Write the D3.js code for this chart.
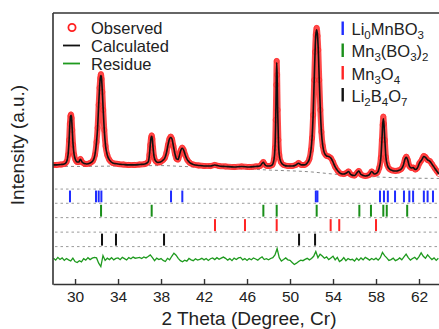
<!DOCTYPE html>
<html><head><meta charset="utf-8">
<script src="https://cdn.jsdelivr.net/npm/d3@7"></script>
<style>body{margin:0;background:#fff}svg{display:block;font-family:"Liberation Sans",Arial,Helvetica,sans-serif}</style>
</head><body><svg id="c" width="439" height="329"></svg>
<script>
// ---------- data ----------
const twoTheta = [27.95,28.3,28.7,29.0,29.2,29.35,29.45,29.52,29.58,29.63,29.68,29.74,29.82,29.92,30.05,30.2,30.35,30.5,30.65,30.85,31.1,31.4,31.65,31.85,32.0,32.1,32.2,32.28,32.35,32.41,32.47,32.54,32.62,32.72,32.84,33.0,33.2,33.5,34.0,34.5,35.0,35.5,36.0,36.5,36.8,36.92,37.0,37.07,37.13,37.19,37.26,37.36,37.5,37.7,37.95,38.2,38.35,38.5,38.65,38.78,38.9,39.02,39.15,39.3,39.45,39.58,39.72,39.85,39.97,40.1,40.25,40.45,40.7,41.0,41.5,42.0,42.6,43.0,43.4,44.0,44.8,45.5,46.2,46.8,47.2,47.4,47.52,47.65,47.85,48.1,48.35,48.5,48.6,48.67,48.72,48.76,48.8,48.85,48.92,49.0,49.15,49.4,49.8,50.2,50.55,50.8,51.05,51.35,51.6,51.8,51.95,52.05,52.15,52.25,52.33,52.4,52.48,52.56,52.63,52.72,52.82,52.92,53.05,53.2,53.4,53.6,53.8,54.0,54.2,54.45,54.7,55.0,55.25,55.45,55.65,56.0,56.25,56.4,56.6,57.0,57.35,57.6,57.85,58.1,58.3,58.45,58.55,58.62,58.68,58.74,58.82,58.92,59.05,59.25,59.5,59.8,60.1,60.35,60.55,60.7,60.82,60.95,61.1,61.3,61.45,61.65,61.85,62.05,62.25,62.45,62.6,62.8,63.0,63.2,63.45,63.65,63.86];
const observed = [15,15,18,22,36,87,196,312,370,380,355,268,160,87,51,36,36,58,36,25,22,29,43,87,181,283,450,573,645,672,638,544,413,268,152,87,51,29,22,18,15,15,18,22,36,87,160,210,228,203,138,72,43,33,36,51,65,101,160,203,220,203,152,94,58,54,87,123,140,123,87,51,29,18,11,7,7,15,7,4,0,4,0,4,7,25,36,18,7,7,15,51,138,341,595,768,667,413,196,87,36,15,7,7,15,29,15,15,29,58,123,210,377,630,834,957,1008,950,848,630,413,254,152,101,80,76,65,36,0,-29,-47,-51,-43,-33,-54,-62,-40,-29,-54,-65,-58,-33,-51,-43,-7,65,196,305,365,312,196,72,15,-14,-25,-29,-25,-14,15,58,74,51,7,-7,-4,-18,-7,29,51,80,72,51,43,22,-7,-29,-51];
const calculated = [15,15,18,22,36,87,196,312,366,374,352,268,160,87,51,36,36,56,36,25,22,29,43,87,181,283,450,573,645,662,638,544,413,268,152,87,51,29,22,18,15,15,18,22,36,87,160,210,222,203,138,72,43,33,36,51,65,101,160,203,214,203,152,94,58,54,87,123,136,123,87,51,29,18,11,7,7,14,7,4,0,4,0,4,7,25,34,18,7,7,15,51,138,341,595,756,667,413,196,87,36,15,7,7,15,27,15,15,29,58,123,210,377,630,834,957,994,950,848,630,413,254,152,101,80,76,65,36,0,-29,-47,-51,-43,-33,-54,-62,-40,-29,-54,-65,-58,-33,-51,-43,-7,65,196,305,350,312,196,72,15,-14,-25,-29,-25,-14,15,58,70,51,7,-7,-4,-18,-7,29,51,76,70,51,43,22,-7,-29,-51];

const bgTheta = [27.95,30,34,38,40,44,48,52,54,58,61,63.86];
const bgIntensity = [7,4,7,10,4,-7,-22,-36,-51,-72,-80,-83];

// residue (obs - calc), sampled every 0.2 deg from 28.0
const residueStart = 28.0, residueStep = 0.2;
const residue = [5,-8,12,-3,8,-10,4,-6,-14,6,
 -18,-25,-12,-20,3,-8,10,-4,6,12,
 8,-30,-55,25,-10,6,-4,10,-6,4,
 8,-5,12,3,-7,10,2,14,6,9,
 12,4,15,8,18,30,10,-12,6,-4,
 3,-10,-18,5,-6,20,42,28,5,-12,
 -20,-8,-15,4,-6,-12,2,-8,-3,5,
 -6,4,-10,2,8,-4,10,-2,6,14,
 5,-8,3,-12,6,-4,8,12,-6,3,
 -10,4,-5,8,0,-8,6,15,-4,2,
 -6,4,10,30,75,10,-15,-4,8,-6,
 -10,-25,-40,-30,-18,-8,-12,-3,5,-6,
 4,20,55,10,35,22,6,15,-4,8,
 20,-6,12,-18,-8,10,-12,4,-6,-2,
 -15,5,-10,8,-6,12,3,-8,4,-5,
 6,-8,10,48,25,8,-10,-4,6,-12,
 -5,8,-6,15,35,10,-8,4,12,-4,
 18,45,20,5,30,12,-4,8,-10,6];
const residueOffset = -667;

// reflection positions (2θ)
const reflLi0MnBO3 = [29.53,31.95,32.2,32.45,38.93,39.98,52.4,52.55,58.37,58.74,59.1,59.77,60.6,61.1,61.45,62.45,62.8,63.3];
const reflMn3BO32 = [32.42,37.13,47.52,48.76,52.48,56.45,57.53,58.68,59.0,60.9];
const reflMn3O4 = [43.02,45.81,48.76,53.78,54.58,58.0];
const reflLi2B4O7 = [32.51,33.81,38.28,50.84,52.33];
const rowLevels = [-160,-263,-367,-472,-577];

const xTicks = [30,34,38,42,46,50,54,58,62];
const xDomain = [27.95,63.86];
const yDomain = [-848,1116];

const phaseNames = [
  [["Li",""],["0","s"],["MnBO",""],["3","s"]],
  [["Mn",""],["3","s"],["(BO",""],["3","s"],[")",""],["2","s"]],
  [["Mn",""],["3","s"],["O",""],["4","s"]],
  [["Li",""],["2","s"],["B",""],["4","s"],["O",""],["7","s"]]
];
const phaseRefl = [reflLi0MnBO3, reflMn3BO32, reflMn3O4, reflLi2B4O7];
const phaseColors = ["#1f2cff","#1a8f1a","#ff2424","#111111"];
const seriesNames = ["Observed","Calculated","Residue"];

// ---------- chart ----------
const L=53, T=13, R=439, B=284;
const svg = d3.select("#c");
const x = d3.scaleLinear().domain(xDomain).range([L,R]);
const y = d3.scaleLinear().domain(yDomain).range([B,T]);

svg.append("defs").append("clipPath").attr("id","clip")
  .append("rect").attr("x",L).attr("y",T).attr("width",R-L).attr("height",B-T);
const g = svg.append("g").attr("clip-path","url(#clip)");

g.selectAll("line.row").data(rowLevels).join("line")
  .attr("x1",L+2).attr("x2",R).attr("y1",d=>y(d)).attr("y2",d=>y(d))
  .attr("stroke","#9a9a9a").attr("stroke-width",1).attr("stroke-dasharray","2.5,3");

const bgData = bgTheta.map((t,i)=>[t,bgIntensity[i]]);
g.append("path").datum(bgData)
  .attr("d",d3.line().x(d=>x(d[0])).y(d=>y(d[1])).curve(d3.curveMonotoneX))
  .attr("fill","none").attr("stroke","#8a8a8a").attr("stroke-width",1).attr("stroke-dasharray","3,3");

phaseRefl.forEach((arr,i)=>{
  const top = y(rowLevels[i])+1.5, bot = y(rowLevels[i+1])-1;
  g.selectAll("rect.p"+i).data(arr).join("rect")
    .attr("x",d=>x(d)-1).attr("width",2).attr("y",top).attr("height",bot-top)
    .attr("fill",phaseColors[i]);
});

const resData = residue.map((v,i)=>[residueStart+i*residueStep, v]);
g.append("path").datum(resData)
  .attr("d",d3.line().x(d=>x(d[0])).y(d=>y(residueOffset+d[1])))
  .attr("fill","none").attr("stroke","#1e9a1e").attr("stroke-width",1.3);

const obsData = twoTheta.map((t,i)=>[t,observed[i]]);
g.append("path").datum(obsData)
  .attr("d",d3.line().x(d=>x(d[0])).y(d=>y(d[1])).curve(d3.curveMonotoneX))
  .attr("fill","none").attr("stroke","#ff2a2a").attr("stroke-width",6).attr("stroke-opacity",0.85)
  .attr("stroke-linejoin","round");
g.selectAll("circle.obs").data(obsData).join("circle")
  .attr("cx",d=>x(d[0])).attr("cy",d=>y(d[1])).attr("r",2.6)
  .attr("fill","none").attr("stroke","#ff2a2a").attr("stroke-width",0.9).attr("stroke-opacity",0.7);

const calcData = twoTheta.map((t,i)=>[t,calculated[i]]);
g.append("path").datum(calcData)
  .attr("d",d3.line().x(d=>x(d[0])).y(d=>y(d[1])).curve(d3.curveMonotoneX))
  .attr("fill","none").attr("stroke","#111").attr("stroke-width",1.6);

const xa = svg.append("g").attr("transform",`translate(0,${B})`)
  .call(d3.axisBottom(x).tickValues(xTicks).tickSizeInner(-5).tickSizeOuter(0).tickPadding(7).tickFormat(d3.format("d")));
xa.select(".domain").attr("stroke","#333").attr("stroke-width",1.6);
xa.selectAll(".tick line").attr("stroke","#333").attr("stroke-width",1.4);
xa.selectAll(".tick text").attr("font-size",15.5).attr("fill","#222").attr("font-family",null);
svg.append("line").attr("x1",L).attr("x2",L).attr("y1",T).attr("y2",B+0.8).attr("stroke","#333").attr("stroke-width",1.6);
svg.append("line").attr("x1",L).attr("x2",R).attr("y1",T).attr("y2",T).attr("stroke","#333").attr("stroke-width",1.6);

svg.append("text").attr("x",249).attr("y",325).attr("text-anchor","middle")
  .attr("font-size",19).attr("fill","#222").text("2 Theta (Degree, Cr)");
svg.append("text").attr("transform","translate(24,145) rotate(-90)").attr("text-anchor","middle")
  .attr("font-size",19).attr("fill","#222").text("Intensity (a.u.)");

const lg = svg.append("g");
const lgY = [27.5,45.5,63.5];
lg.append("circle").attr("cx",72).attr("cy",lgY[0]).attr("r",3.6).attr("fill","none").attr("stroke","#ff2020").attr("stroke-width",1.8);
lg.append("line").attr("x1",63).attr("x2",80).attr("y1",lgY[1]).attr("y2",lgY[1]).attr("stroke","#111").attr("stroke-width",1.8);
lg.append("line").attr("x1",63).attr("x2",80).attr("y1",lgY[2]).attr("y2",lgY[2]).attr("stroke","#1e9a1e").attr("stroke-width",1.8);
lg.selectAll("text").data(seriesNames).join("text")
  .attr("x",91).attr("y",(d,i)=>lgY[i]+6).attr("font-size",16.5).attr("fill","#222").text(d=>d);

const rgBase = [35,57,79.5,101.5];
phaseNames.forEach((parts,i)=>{
  svg.append("rect").attr("x",341.5).attr("width",2.4).attr("y",rgBase[i]-13.5).attr("height",13.5)
    .attr("fill",phaseColors[i]);
  const t = svg.append("text").attr("x",351.5).attr("y",rgBase[i]).attr("font-size",16.5).attr("fill","#222");
  let cur=0;
  parts.forEach(p=>{
    const target = p[1]==="s"?4:0;
    const ts = t.append("tspan").text(p[0]).attr("dy",target-cur);
    if(p[1]==="s") ts.attr("font-size",11.5);
    cur=target;
  });
});
</script></body></html>
